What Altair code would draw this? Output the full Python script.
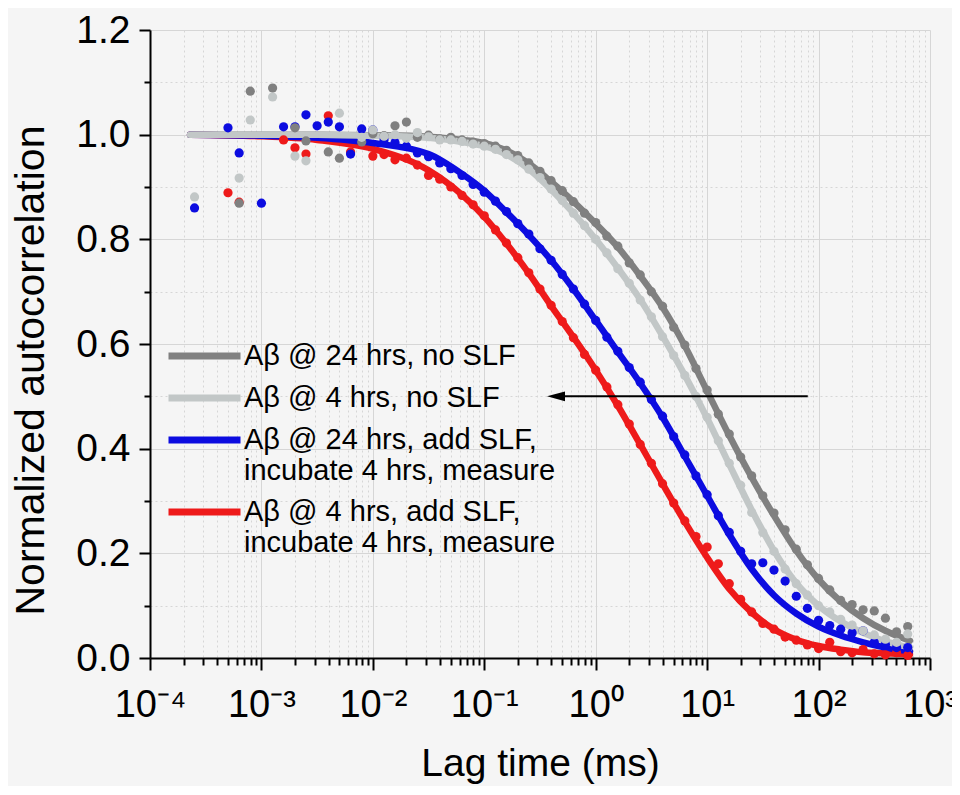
import altair as alt
import pandas as pd

FONT = "Liberation Sans"
BG = "#f5f5f5"

series_names = [
    "Aβ @ 24 hrs, no SLF",
    "Aβ @ 4 hrs, no SLF",
    "Aβ @ 24 hrs, add SLF,|incubate 4 hrs, measure",
    "Aβ @ 4 hrs, add SLF,|incubate 4 hrs, measure",
]
series_colors = ["#808080", "#c2c7c7", "#0c0ce0", "#ee1a1a"]

# correlator lag channels (ms)
lag_ms = [0.000251, 0.000316, 0.000398, 0.000501, 0.000631, 0.000794,
          0.001, 0.00126, 0.00158, 0.002, 0.00251, 0.00316, 0.00398, 0.00501, 0.00631, 0.00794,
          0.01, 0.0126, 0.0158, 0.02, 0.0251, 0.0316, 0.0398, 0.0501, 0.0631, 0.0794,
          0.1, 0.126, 0.158, 0.2, 0.251, 0.316, 0.398, 0.501, 0.631, 0.794,
          1.0, 1.26, 1.58, 2.0, 2.51, 3.16, 3.98, 5.01, 6.31, 7.94,
          10, 12.6, 15.8, 20, 25.1, 31.6, 39.8, 50.1, 63.1, 79.4,
          100, 126, 158, 200, 251, 316, 398, 501, 631]

dots_dark = [None, None, None, None, 0.869, 1.083, None, 1.089, None, 1.013, 0.988, None, 0.967, 0.955, None, 0.986,
             1.002, 0.998, 1.017, 1.024, 0.995, 0.999, 0.992, 0.995, 0.990, 0.986,
             0.983, 0.978, 0.970, 0.960, 0.946, 0.930, 0.912, 0.893, 0.872, 0.850,
             0.832, 0.806, 0.787, 0.755, 0.732, 0.700, 0.672, 0.632, 0.598, 0.553,
             0.512, 0.466, 0.428, 0.384, 0.348, 0.310, 0.277, 0.245, 0.208, 0.178,
             0.152, 0.130, 0.110, 0.102, 0.092, 0.090, 0.076, 0.050, 0.060]
dots_light = [0.881, None, None, None, 0.917, 1.028, None, 1.072, None, 0.959, 0.950, None, None, 1.041, None, 0.995,
              1.009, 0.997, 1.000, 0.993, 1.004, 0.996, 0.990, 0.990, 0.987, 0.982,
              0.978, 0.972, 0.962, 0.952, 0.934, 0.918, 0.896, 0.874, 0.850, 0.826,
              0.800, 0.774, 0.744, 0.716, 0.684, 0.652, 0.614, 0.578, 0.540, 0.500,
              0.460, 0.415, 0.372, 0.330, 0.278, 0.240, 0.204, 0.170, 0.142, 0.120,
              0.100, 0.088, 0.074, 0.063, 0.052, 0.044, 0.036, 0.030, 0.046]
dots_blue = [0.860, None, None, 1.013, 0.965, None, 0.869, None, 1.015, 1.015, 1.038, 1.017, 1.024, 1.015, 0.963, 1.011,
             1.009, 0.990, 0.985, 0.978, 0.965, 0.958, 0.946, 0.935, 0.922, 0.905,
             0.890, 0.873, 0.853, 0.830, 0.810, 0.782, 0.760, 0.733, 0.705, 0.676,
             0.645, 0.613, 0.586, 0.555, 0.527, 0.494, 0.462, 0.423, 0.388, 0.348,
             0.312, 0.272, 0.240, 0.204, 0.180, 0.182, 0.168, 0.147, 0.118, 0.095,
             0.072, 0.062, 0.055, 0.048, 0.052, 0.030, 0.026, 0.020, 0.020]
dots_red = [None, None, None, 0.889, 0.871, None, None, None, 0.990, 0.975, 0.963, None, 1.036, None, 0.967, None,
            0.959, 0.962, 0.952, 0.955, 0.942, 0.922, 0.915, 0.900, 0.884, 0.866,
            0.845, 0.818, 0.793, 0.765, 0.736, 0.705, 0.674, 0.643, 0.612, 0.580,
            0.550, 0.518, 0.484, 0.447, 0.408, 0.372, 0.333, 0.296, 0.262, 0.232,
            0.212, 0.180, 0.142, 0.112, 0.088, 0.066, 0.055, 0.040, 0.034, 0.025,
            0.018, 0.030, 0.012, 0.010, 0.016, 0.008, 0.006, 0.010, 0.005]

# fitted curves
fit_lag_ms = [0.000229, 0.001, 0.00316, 0.01, 0.0316, 0.0631, 0.1, 0.158, 0.251, 0.398, 0.631,
              1.0, 1.58, 2.51, 3.98, 6.31, 10, 15.8, 25.1, 39.8, 63.1, 100, 158, 251, 398, 661]
fit_dark = [1.0, 1.0, 1.0, 0.999, 0.996, 0.990, 0.984, 0.970, 0.945, 0.910, 0.872,
            0.830, 0.785, 0.730, 0.670, 0.596, 0.510, 0.425, 0.345, 0.272, 0.205, 0.150, 0.108, 0.076, 0.052, 0.033]
fit_light = [1.0, 1.0, 1.0, 0.998, 0.994, 0.986, 0.978, 0.962, 0.934, 0.895, 0.850,
             0.800, 0.745, 0.685, 0.615, 0.540, 0.458, 0.370, 0.283, 0.205, 0.143, 0.100, 0.070, 0.048, 0.032, 0.020]
fit_blue = [1.0, 0.998, 0.994, 0.984, 0.963, 0.925, 0.893, 0.852, 0.808, 0.760, 0.705,
            0.645, 0.585, 0.525, 0.460, 0.385, 0.310, 0.236, 0.170, 0.120, 0.085, 0.060, 0.043, 0.030, 0.020, 0.013]
fit_red = [1.0, 0.997, 0.990, 0.973, 0.932, 0.885, 0.843, 0.792, 0.735, 0.673, 0.613,
           0.550, 0.482, 0.408, 0.333, 0.260, 0.192, 0.132, 0.087, 0.055, 0.035, 0.023, 0.016, 0.011, 0.009, 0.007]

# annotation arrow (tail -> head)
arrow_lag = [80.0, 0.44]
arrow_g = [0.5, 0.5]

x_ticks = [m * 10.0 ** e for e in range(-4, 3) for m in range(1, 10)] + [1000.0]
y_ticks = [0.0, 0.1, 0.2, 0.3, 0.4, 0.5, 0.6, 0.7, 0.8, 0.9, 1.0, 1.1, 1.2]

dots_by_series = dict(zip(series_names, [dots_dark, dots_light, dots_blue, dots_red]))
fits_by_series = dict(zip(series_names, [fit_dark, fit_light, fit_blue, fit_red]))

draw_order = [series_names[3], series_names[2], series_names[0], series_names[1]]

dot_rows = []
for name in draw_order:
    for t, v in zip(lag_ms, dots_by_series[name]):
        if v is not None:
            dot_rows.append({"series": name, "lag": t, "g": v})
dots_df = pd.DataFrame(dot_rows)

LOGE = "(log(datum.value)/LN10)"
major_x = f"abs({LOGE} - round({LOGE})) < 0.001"
major_y = "abs(datum.value*5 - round(datum.value*5)) < 0.001"

x_axis = alt.Axis(
    values=x_ticks,
    labelExpr=(f"{major_x} ? '10' + (round({LOGE}) < 0 ? '⁻' : '') + "
               f"['⁰','¹','²','³','⁴'][abs(round({LOGE}))] : ''"),
    labelFont=FONT, labelFontSize=38, labelColor="black", labelPadding=16,
    labelFlush=False, labelOverlap=False,
    tickSize={"condition": {"test": major_x, "value": 12}, "value": 7},
    tickColor="black", tickWidth=2,
    domainColor="black", domainWidth=2,
    grid=True, gridColor="#d6d6d6", gridWidth=1,
    gridDash={"condition": {"test": major_x, "value": []}, "value": [2, 3]},
    title="Lag time (ms)", titleFont=FONT, titleFontSize=39, titleFontWeight="normal",
    titleColor="black", titlePadding=20,
)
y_axis = alt.Axis(
    values=y_ticks,
    labelExpr=f"{major_y} ? format(datum.value, '.1f') : ''",
    labelFont=FONT, labelFontSize=39, labelColor="black", labelPadding=9,
    labelOverlap=False,
    tickSize={"condition": {"test": major_y, "value": 11}, "value": 6},
    tickColor="black", tickWidth=2,
    domainColor="black", domainWidth=2,
    grid=True, gridColor="#d6d6d6", gridWidth=1,
    gridDash={"condition": {"test": major_y, "value": []}, "value": [2, 3]},
    title="Normalized autocorrelation", titleFont=FONT, titleFontSize=41,
    titleFontWeight="normal", titleColor="black", titlePadding=23, titleY=340,
)

x_enc = alt.X("lag:Q", scale=alt.Scale(type="log", domain=[1e-4, 1e3], nice=False), axis=x_axis)
y_enc = alt.Y("g:Q", scale=alt.Scale(domain=[0, 1.2], nice=False, zero=False), axis=y_axis)
color_scale = alt.Scale(domain=series_names, range=series_colors)

legend = alt.Legend(
    title=None, orient="none", legendX=15, legendY=310,
    symbolType="stroke", symbolSize=5184, symbolStrokeWidth=7,
    labelFont=FONT, labelFontSize=29, labelColor="black",
    labelExpr="split(datum.label, '|')", labelLimit=600, labelOffset=0,
    clipHeight=32, rowPadding=10, padding=0,
)

layers = []
for name in draw_order:
    df = pd.DataFrame({"series": name, "lag": fit_lag_ms, "g": fits_by_series[name]})
    layers.append(
        alt.Chart(df).mark_line(strokeWidth=6.5, interpolate="monotone", strokeCap="round")
        .encode(x=x_enc, y=y_enc, color=alt.Color("series:N", scale=color_scale, legend=legend))
    )

layers.append(
    alt.Chart(dots_df).mark_circle(size=85, opacity=1)
    .encode(x=x_enc, y=y_enc, color=alt.Color("series:N", scale=color_scale, legend=None))
)

arrow_df = pd.DataFrame({"lag": arrow_lag, "g": arrow_g})
layers.append(alt.Chart(arrow_df).mark_line(color="black", strokeWidth=2).encode(x=x_enc, y=y_enc))
layers.append(
    alt.Chart(arrow_df.iloc[[1]]).mark_point(
        shape="M -1 0 L 1 -0.55 L 1 0.55 Z", size=324, filled=True, color="black", opacity=1
    ).encode(x=x_enc, y=y_enc)
)

chart = alt.layer(*layers).properties(
    width=780, height=628, background=BG,
    padding={"left": 142, "top": 22, "right": 22, "bottom": 128},
    autosize=alt.AutoSizeParams(type="none"),
).configure_view(fill=BG, stroke=None)

chart.save("out.html", embed_options={"renderer": "svg", "actions": False})
